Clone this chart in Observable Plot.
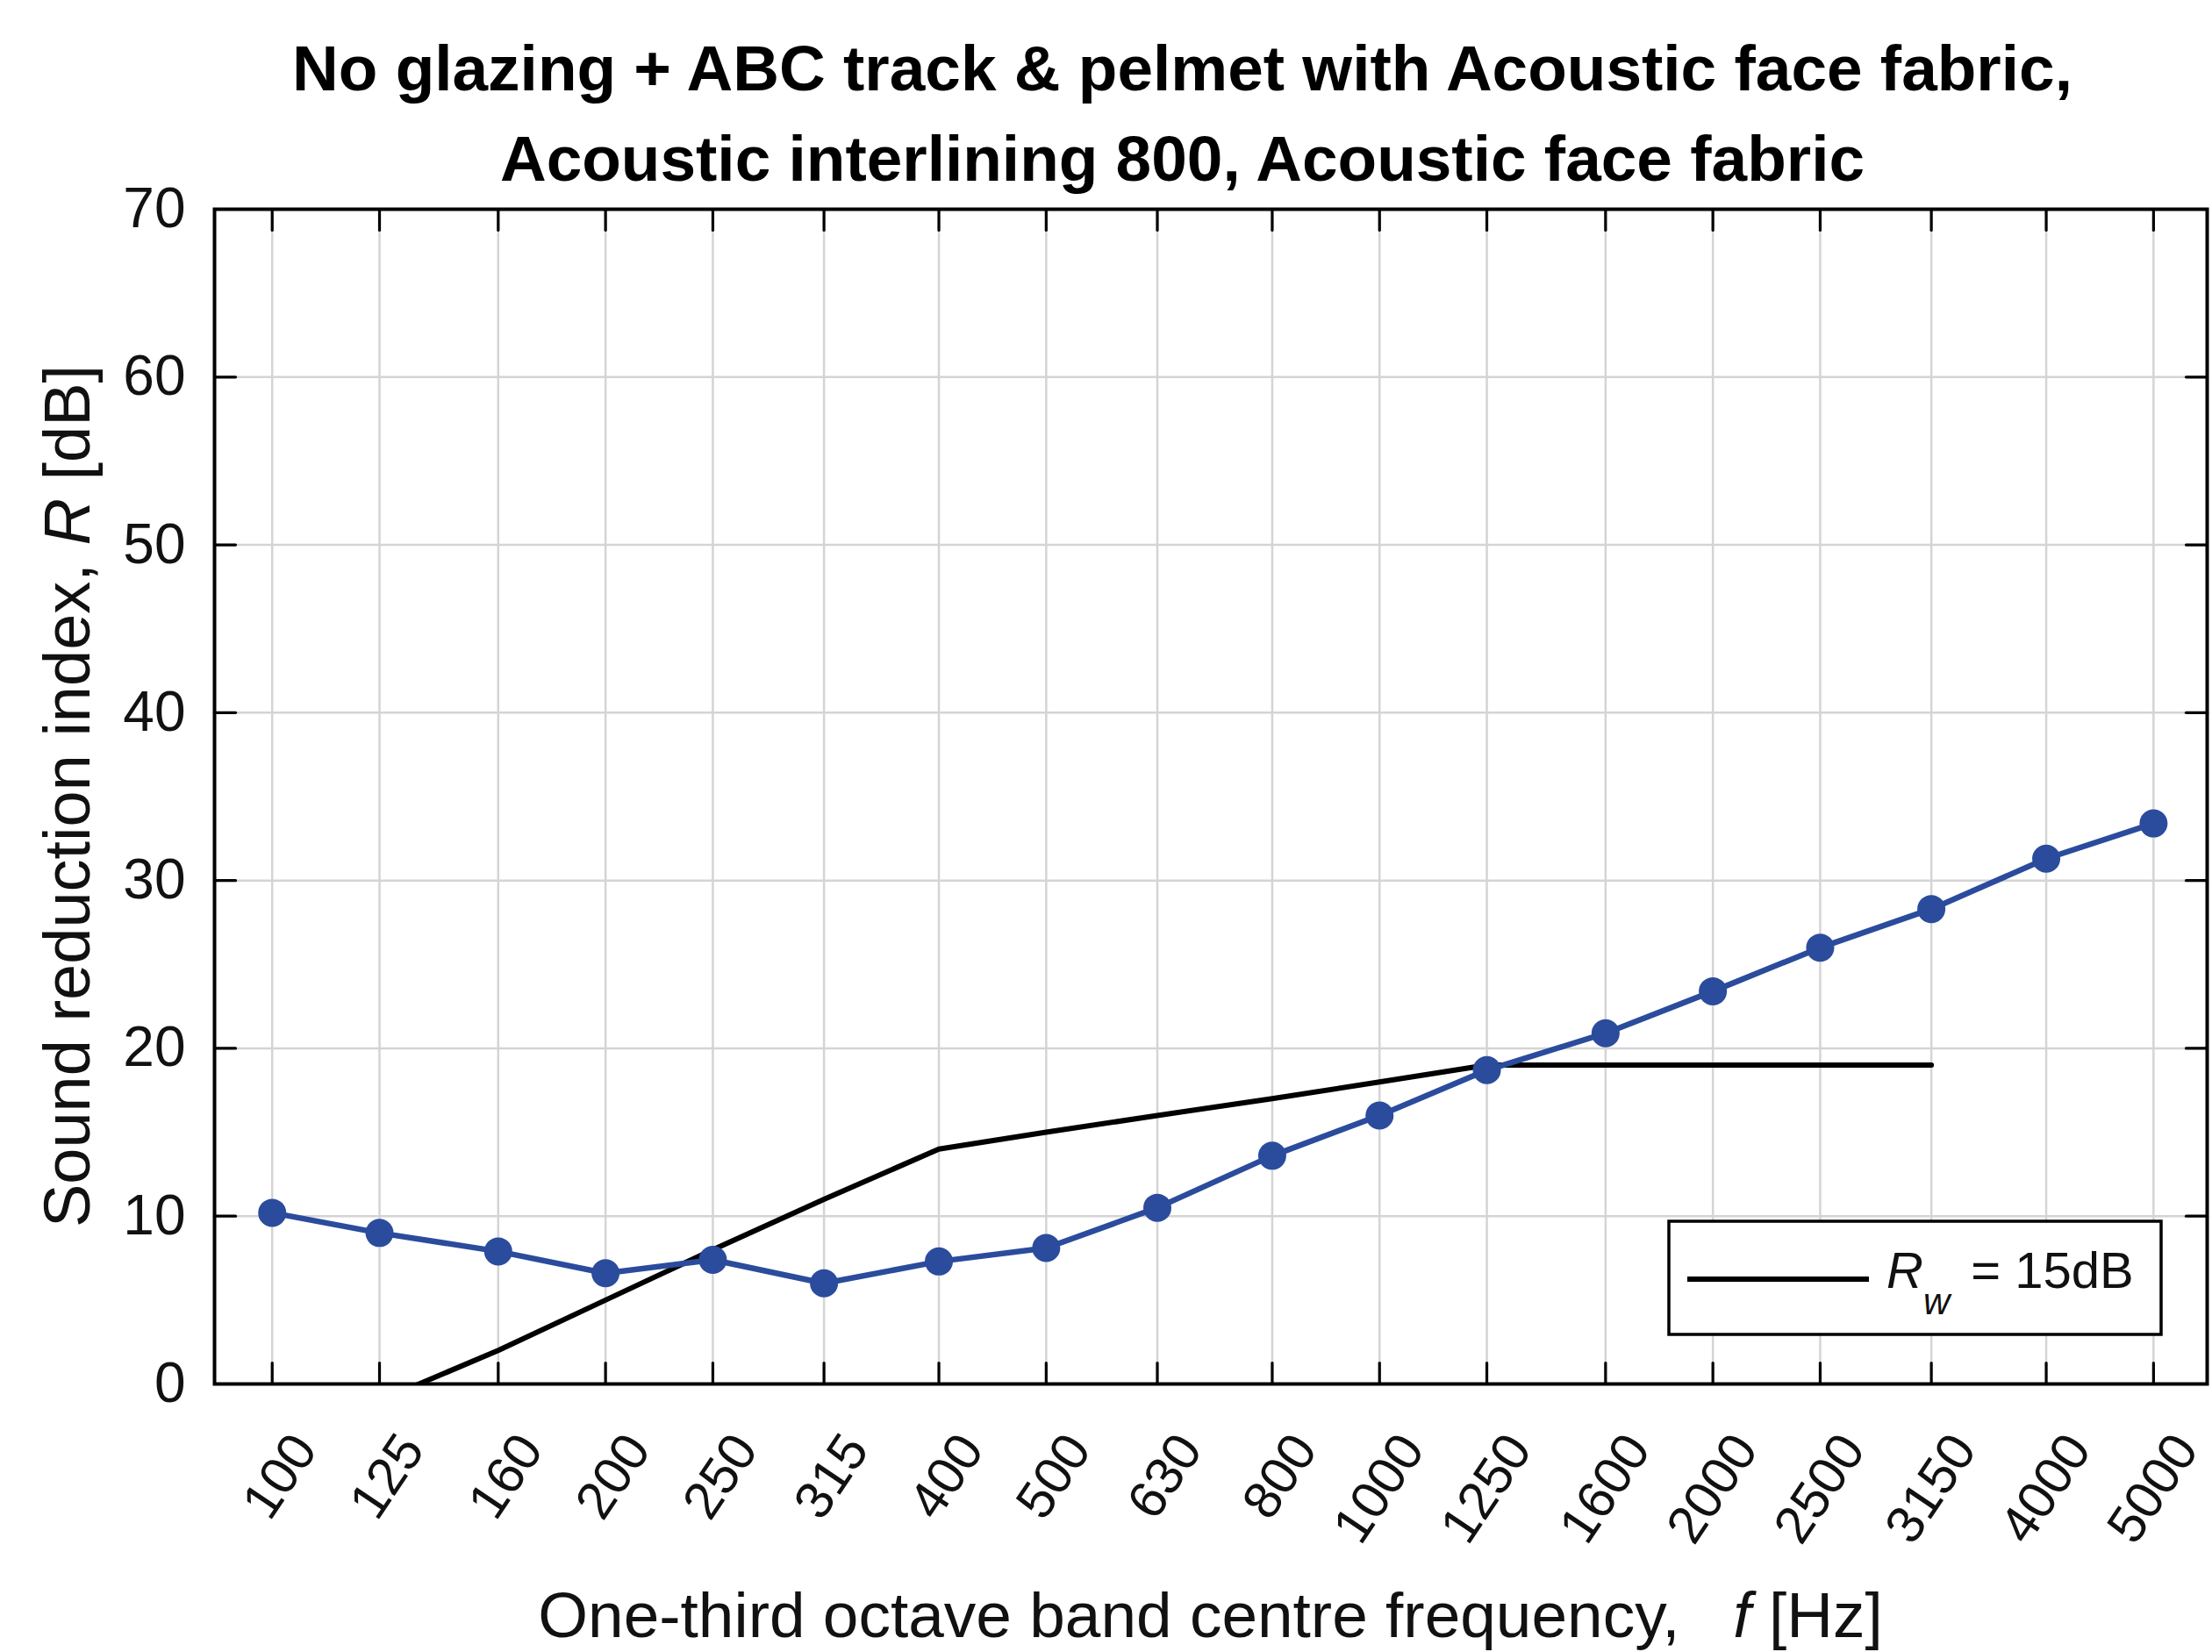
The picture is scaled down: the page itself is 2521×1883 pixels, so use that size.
<!DOCTYPE html>
<html><head><meta charset="utf-8">
<script src="https://cdn.jsdelivr.net/npm/d3@7"></script>
<script src="https://cdn.jsdelivr.net/npm/@observablehq/plot@0.6"></script>
<style>
body{margin:0;background:#fff;}
#title{box-sizing:border-box;width:2521px;height:214px;padding-top:26px;padding-left:174px;text-align:center;font:bold 73px/103px "Liberation Sans",Arial,sans-serif;color:#000;white-space:nowrap;overflow:visible;}
#chart svg text{white-space:pre;}
</style></head><body>
<div id="title">No glazing + ABC track &amp; pelmet with Acoustic face fabric,<br>Acoustic interlining 800, Acoustic face fabric</div>
<div id="chart"></div>
<script>
// ---- data ----
const frequencies = [100,125,160,200,250,315,400,500,630,800,1000,1250,1600,2000,2500,3150,4000,5000];
const xTickLabels = ["100","125","160","200","250","315","400","500","630","800","1000","1250","1600","2000","2500","3150","4000","5000"];
const measuredR = [10.2,9.0,7.9,6.6,7.4,6.0,7.3,8.1,10.5,13.6,16.0,18.7,20.9,23.4,26.0,28.3,31.3,33.4];
const referenceFrequencies = [100,125,160,200,250,315,400,500,630,800,1000,1250,1600,2000,2500,3150];
const referenceR = [-4,-1,2,5,8,11,14,15,16,17,18,19,19,19,19,19];
const yTicks = [0,10,20,30,40,50,60,70];
const legendSymbol = "R", legendSub = "w", legendRest = " = 15dB";
const yLabelParts = ["Sound reduction index, ", "R", " [dB]"];
const xLabelParts = ["One-third octave band centre frequency,   ", "f", " [Hz]"];

const measured = frequencies.map((f, i) => ({f, R: measuredR[i]}));
const reference = referenceFrequencies.map((f, i) => ({f, R: referenceR[i]}));

// ---- layout ----
const W = 2521, H = 1669, mL = 244, mR = 6, mT = 24, mB = 306;
const FONT = '"Liberation Sans", Arial, sans-serif';
const blue = "#2b4c9c";
const gridColor = "#d4d4d4";
const tickShape = {draw(ctx, l) { ctx.moveTo(0, 0); ctx.lineTo(0, -l); }};
const tickOpts = {length: 24, anchor: "start", shape: tickShape, stroke: "black", strokeWidth: 3.2};

const chart = Plot.plot({
  width: W, height: H,
  marginLeft: mL, marginRight: mR, marginTop: mT, marginBottom: mB,
  style: {fontFamily: FONT, fontSize: "58px", color: "#111", background: "white", overflow: "visible"},
  x: {type: "log", domain: [88.7, 5590]},
  y: {domain: [0, 70]},
  marks: [
    Plot.gridX(frequencies, {stroke: gridColor, strokeOpacity: 1, strokeWidth: 2.5}),
    Plot.gridY(yTicks, {stroke: gridColor, strokeOpacity: 1, strokeWidth: 2.5}),
    Plot.line(reference, {x: "f", y: "R", stroke: "black", strokeWidth: 6, clip: true, strokeLinejoin: "round"}),
    Plot.line(measured, {x: "f", y: "R", stroke: blue, strokeWidth: 6.5, strokeLinejoin: "round"}),
    Plot.dot(measured, {x: "f", y: "R", r: 16, fill: blue, stroke: null}),
    Plot.vectorX(frequencies, {...tickOpts, frameAnchor: "bottom", rotate: 0}),
    Plot.vectorX(frequencies, {...tickOpts, frameAnchor: "top", rotate: 180}),
    Plot.vectorY(yTicks, {...tickOpts, frameAnchor: "left", rotate: 90}),
    Plot.vectorY(yTicks, {...tickOpts, frameAnchor: "right", rotate: -90}),
    Plot.frame({stroke: "black", strokeWidth: 4}),
    Plot.axisX(frequencies, {tickSize: 0, tickPadding: 64, tickRotate: -56, dx: 37, fontSize: 60,
      tickFormat: d => xTickLabels[frequencies.indexOf(d)], label: null}),
    Plot.axisY(yTicks, {tickSize: 0, tickPadding: 33, fontSize: 64, label: null})
  ]
});
document.getElementById("chart").appendChild(chart);

const svg = d3.select(chart);
const fr = W - mR, fb = H - mB;

// axis labels
const yl = svg.append("text")
  .attr("transform", `translate(102,${(mT + fb) / 2}) rotate(-90)`)
  .attr("text-anchor", "middle").attr("font-size", 74).attr("font-family", FONT).attr("fill", "#111");
yl.append("tspan").text(yLabelParts[0]);
yl.append("tspan").attr("font-style", "italic").text(yLabelParts[1]);
yl.append("tspan").text(yLabelParts[2]);

const xl = svg.append("text")
  .attr("x", (mL + fr) / 2).attr("y", 1652)
  .attr("text-anchor", "middle").attr("font-size", 73).attr("font-family", FONT).attr("fill", "#111");
xl.append("tspan").text(xLabelParts[0]);
xl.append("tspan").attr("font-style", "italic").text(xLabelParts[1]);
xl.append("tspan").text(xLabelParts[2]);

// legend
const bw = 561, bh = 129;
const lx = fr - 52 - bw, ly = fb - 56 - bh;
const g = svg.append("g").attr("font-family", FONT).attr("text-anchor", "start");
g.append("rect").attr("x", lx).attr("y", ly).attr("width", bw).attr("height", bh)
  .attr("fill", "white").attr("stroke", "black").attr("stroke-width", 3.5);
g.append("line").attr("x1", lx + 21).attr("x2", lx + 228).attr("y1", ly + 66).attr("y2", ly + 66)
  .attr("stroke", "black").attr("stroke-width", 6);
const lt = g.append("text").attr("x", lx + 248).attr("y", ly + 76).attr("font-size", 58)
  .attr("fill", "#111").attr("text-anchor", "start");
lt.append("tspan").attr("font-style", "italic").text(legendSymbol);
lt.append("tspan").attr("font-style", "italic").attr("font-size", 42).attr("dy", 30).text(legendSub);
lt.append("tspan").attr("dy", -30).attr("dx", 8).text(legendRest);
</script>
</body></html>
